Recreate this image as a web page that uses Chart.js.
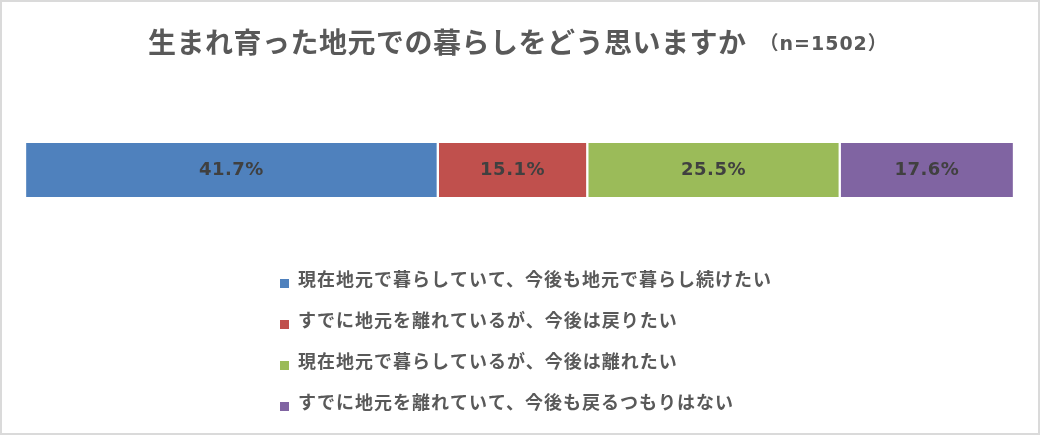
<!DOCTYPE html>
<html lang="ja">
<head>
<meta charset="utf-8">
<title>生まれ育った地元での暮らしをどう思いますか</title>
<script src="https://cdn.jsdelivr.net/npm/chart.js@4.4.1/dist/chart.umd.min.js"></script>
<style>
  html, body { margin: 0; padding: 0; background: #fff; }
  #wrap { position: relative; width: 1040px; height: 435px; }
  #frame { position: absolute; left: 0; top: 0; right: 0; bottom: 0; border: 2px solid #dadada; pointer-events: none; }
  canvas { display: block; }
</style>
</head>
<body>
<div id="wrap">
  <canvas id="homeChart" width="1040" height="435"></canvas>
  <div id="frame"></div>
</div>
<script>
const titleText = "生まれ育った地元での暮らしをどう思いますか";
const sampleText = "（n=1502）";
const categories = ["全体"];
const seriesLabels = [
  "現在地元で暮らしていて、今後も地元で暮らし続けたい",
  "すでに地元を離れているが、今後は戻りたい",
  "現在地元で暮らしているが、今後は離れたい",
  "すでに地元を離れていて、今後も戻るつもりはない"
];
const seriesValues = [41.7, 15.1, 25.5, 17.6];
const seriesColors = ["#4F81BD", "#C0504D", "#9BBB59", "#8064A2"];

const fontStack = '"DejaVu Sans", "Noto Sans CJK JP", sans-serif';
const cjkStack = '"Noto Sans CJK JP", "DejaVu Sans", sans-serif';

// title, value labels and the one-item-per-row legend
const decorPlugin = {
  id: "decor",
  afterDatasetsDraw(chart) {
    const ctx = chart.ctx;
    ctx.save();
    ctx.font = "bold 18px " + fontStack;
    ctx.fillStyle = "#404040";
    ctx.textAlign = "center";
    ctx.textBaseline = "middle";
    ctx.letterSpacing = "0.5px";
    chart.data.datasets.forEach((ds, i) => {
      const el = chart.getDatasetMeta(i).data[0];
      const c = el.getCenterPoint();
      ctx.fillText(ds.data[0].toFixed(1) + "%", c.x, c.y);
    });
    ctx.restore();
  },
  afterDraw(chart) {
    const ctx = chart.ctx;
    const area = chart.chartArea;
    ctx.save();

    // title, left edge as in the original
    ctx.textBaseline = "middle";
    ctx.textAlign = "left";
    ctx.fillStyle = "#595959";
    ctx.font = "bold 28px " + cjkStack;
    ctx.letterSpacing = "0.5px";
    const tx = 148;
    const w1 = ctx.measureText(titleText).width;
    ctx.fillText(titleText, tx, 42);
    ctx.font = "bold 19px " + fontStack;
    ctx.letterSpacing = "1px";
    ctx.fillText(sampleText, tx + w1 + 13, 45);

    // legend
    ctx.font = "bold 18px " + cjkStack;
    ctx.letterSpacing = "1px";
    chart.data.datasets.forEach((ds, i) => {
      const y = area.bottom + 82 + i * 41;
      ctx.fillStyle = ds.backgroundColor;
      ctx.fillRect(280, y, 9, 9);
      ctx.fillStyle = "#595959";
      ctx.fillText(ds.label, 298, y);
    });
    ctx.restore();
  }
};

const total = seriesValues.reduce((a, b) => a + b, 0);

new Chart(document.getElementById("homeChart"), {
  type: "bar",
  data: {
    labels: categories,
    datasets: seriesLabels.map((label, i) => ({
      label: label,
      data: [seriesValues[i]],
      backgroundColor: seriesColors[i],
      borderColor: "#ffffff",
      borderWidth: { left: 1.5, right: 1.5, top: 0, bottom: 0 },
      borderSkipped: false,
      barPercentage: 1,
      categoryPercentage: 1
    }))
  },
  options: {
    indexAxis: "y",
    responsive: false,
    animation: false,
    layout: {
      padding: { left: 25, right: 26, top: 143, bottom: 238 }
    },
    scales: {
      x: { stacked: true, display: false, min: 0, max: total },
      y: { stacked: true, display: false }
    },
    plugins: {
      legend: { display: false },
      title: { display: false },
      tooltip: { enabled: false }
    }
  },
  plugins: [decorPlugin]
});
</script>
</body>
</html>
